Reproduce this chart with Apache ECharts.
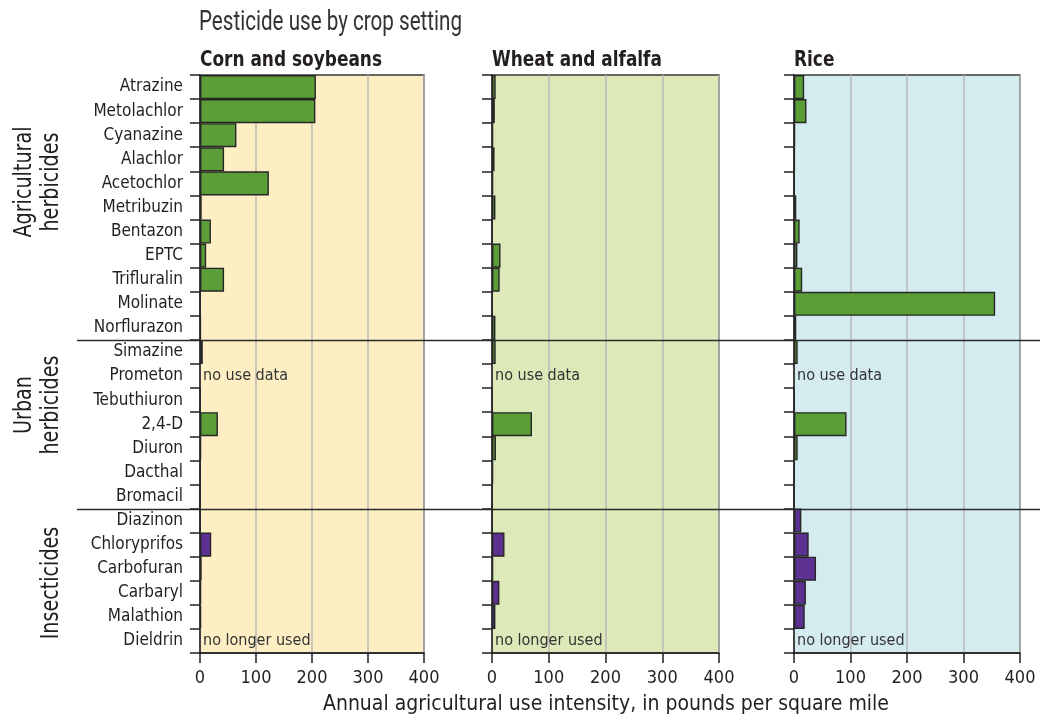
<!DOCTYPE html>
<html>
<head>
<meta charset="utf-8">
<script src="https://cdn.jsdelivr.net/npm/echarts@6/dist/echarts.min.js"></script>
<style>
  html, body { margin: 0; padding: 0; background: #ffffff; }
  #chart { width: 1045px; height: 719px; }
</style>
</head>
<body>
<div id="chart"></div>
<script>
// ---- data ----
const categories = [
  'Atrazine', 'Metolachlor', 'Cyanazine', 'Alachlor', 'Acetochlor', 'Metribuzin',
  'Bentazon', 'EPTC', 'Trifluralin', 'Molinate', 'Norflurazon',
  'Simazine', 'Prometon', 'Tebuthiuron', '2,4-D', 'Diuron', 'Dacthal', 'Bromacil',
  'Diazinon', 'Chloryprifos', 'Carbofuran', 'Carbaryl', 'Malathion', 'Dieldrin'
];
const groupNames = ['Agricultural\nherbicides', 'Urban\nherbicides', 'Insecticides'];
const groupSizes = [11, 7, 6];
const panelTitles = ['Corn and soybeans', 'Wheat and alfalfa', 'Rice'];

// annual agricultural use intensity, pounds per square mile
const cornSoybeans = [207, 206, 65, 43, 123, 3, 19.5, 11, 43, 0.5, 1.5,
                      5, 0, 0.5, 32, 2, 1, 0,
                      0.5, 20, 3, 2, 2, 0];
const wheatAlfalfa = [6.5, 5, 2, 4.5, 2, 6, 0.5, 15, 13.5, 0.5, 6,
                      6.5, 0, 1, 70.5, 7, 2, 1,
                      1, 22, 2, 13, 6, 0];
const rice         = [18, 22, 2, 1.5, 1, 4, 10, 6, 14.5, 356, 4,
                      6.5, 0, 1, 93, 6.5, 1, 0.5,
                      13, 26, 39, 21, 19, 0];
const notes = ['', '', '', '', '', '', '', '', '', '', '',
               '', 'no use data', '', '', '', '', '',
               '', '', '', '', '', 'no longer used'];
const xTicks = [0, 100, 200, 300, 400];
const xTitle = 'Annual agricultural use intensity, in pounds per square mile';
const chartTitle = 'Pesticide use by crop setting';

// ---- styling ----
const FONT = '"DejaVu Sans Condensed", "Liberation Sans Narrow", sans-serif';
const TITLE_FONT = 'Roboto, "DejaVu Sans Condensed", sans-serif';
const INK = '#231f20';
const groupColors = ['#5b9e38', '#5b9e38', '#5c3192'];
const panelBg = ['#fdeec4', '#dde9b8', '#d4ebef'];
const panelBox = [
  { left: 200, width: 224 },
  { left: 492, width: 227 },
  { left: 794, width: 226 }
];
const TOP = 75, HEIGHT = 578;

const seriesData = [cornSoybeans, wheatAlfalfa, rice];

// horizontal squeeze that makes a string span the wanted width
const measureCtx = document.createElement('canvas').getContext('2d');
function squeeze(text, weight, size, family, width) {
  measureCtx.font = weight + ' ' + size + 'px ' + family;
  const lines = text.split('\n');
  const w = Math.max.apply(null, lines.map(l => measureCtx.measureText(l).width));
  return width / w;
}

// colour of each category from the group it belongs to
const catColor = [];
groupSizes.forEach((n, g) => { for (let i = 0; i < n; i++) catColor.push(groupColors[g]); });

const chart = echarts.init(document.getElementById('chart'), null, { renderer: 'canvas' });

const grids = panelBox.map((b, i) => ({
  left: b.left, top: TOP, width: b.width, height: HEIGHT,
  show: true, backgroundColor: panelBg[i], borderColor: '#3a3a3a', borderWidth: 1.5,
  containLabel: false
}));

const xAxes = panelBox.map((b, i) => ({
  type: 'value', gridIndex: i, min: xTicks[0], max: xTicks[xTicks.length - 1],
  interval: xTicks[1] - xTicks[0],
  axisLine: { show: true, lineStyle: { color: INK, width: 1.5 } },
  axisTick: { show: true, length: 10, lineStyle: { color: INK, width: 1.5 } },
  axisLabel: { fontFamily: FONT, fontSize: 18, color: INK, margin: 16 },
  splitLine: { show: true, lineStyle: { color: '#b9b9b9', width: 1.5 } }
}));

const yAxes = panelBox.map((b, i) => ({
  type: 'category', gridIndex: i, data: categories, inverse: true,
  axisLine: { show: true, lineStyle: { color: INK, width: 1.5 } },
  axisTick: { show: true, length: 10, interval: 0, lineStyle: { color: INK, width: 1.5 } },
  axisLabel: { show: i === 0, interval: 0, fontFamily: FONT, fontSize: 17, color: INK, margin: 17 },
  splitLine: { show: false }
}));

const series = seriesData.map((vals, i) => ({
  type: 'bar', xAxisIndex: i, yAxisIndex: i,
  barCategoryGap: '0%',
  data: vals.map((v, k) => {
    const item = {
      value: v,
      itemStyle: { color: catColor[k], borderColor: '#262626', borderWidth: notes[k] ? 0 : 1.4 }
    };
    if (notes[k]) {
      item.label = {
        show: true, position: 'right', distance: 3, formatter: notes[k],
        fontFamily: FONT, fontSize: 16, color: '#333'
      };
    }
    return item;
  }),
  animation: false,
  silent: true
}));

chart.setOption({
  animation: false,
  grid: grids,
  xAxis: xAxes,
  yAxis: yAxes,
  series: series
});

// ---- titles, group labels and group separators ----
const graphics = [];
graphics.push({
  type: 'text', x: 199, y: 23,
  scaleX: squeeze(chartTitle, 'normal', 28, TITLE_FONT, 263),
  style: { text: chartTitle, fontFamily: TITLE_FONT, fontSize: 28, fontWeight: 'normal', fill: '#333',
           textAlign: 'left', textVerticalAlign: 'middle' }
});
const panelTitleScale = squeeze(panelTitles[0], 'bold', 21, FONT, 182);
panelTitles.forEach((t, i) => {
  graphics.push({
    type: 'text', x: panelBox[i].left, y: 61, scaleX: panelTitleScale,
    style: { text: t, fontFamily: FONT, fontSize: 21, fontWeight: 'bold', fill: INK,
             textAlign: 'left', textVerticalAlign: 'middle' }
  });
});
graphics.push({
  type: 'text', x: 606, y: 705,
  scaleX: squeeze(xTitle, 'normal', 21, FONT, 566),
  style: { text: xTitle, fontFamily: FONT, fontSize: 21, fill: INK,
           textAlign: 'center', textVerticalAlign: 'middle' }
});

// boundaries between groups, from the category scale
const rowY = k => chart.convertToPixel({ yAxisIndex: 0 }, categories[k]);
const groupLabelScale = squeeze('Agricultural', 'normal', 24, FONT, 111);
let start = 0;
const groupLabelPos = [{ x: 38, y: 182 }, { x: 38, y: 405 }, { x: 52, y: 583 }];
groupSizes.forEach((n, g) => {
  const end = start + n;
  if (end < categories.length) {
    const yb = Math.round((rowY(end - 1) + rowY(end)) / 2) + 0.5;
    graphics.push({
      type: 'line', shape: { x1: 77, y1: yb, x2: 1040, y2: yb },
      style: { stroke: '#2b2b2b', lineWidth: 1.3 }, z: 10
    });
  }
  graphics.push({
    type: 'text', x: groupLabelPos[g].x, y: groupLabelPos[g].y, rotation: Math.PI / 2,
    scaleX: groupLabelScale,
    style: { text: groupNames[g], fontFamily: FONT, fontSize: 24, fill: INK, lineHeight: 27,
             textAlign: 'center', textVerticalAlign: 'middle' }
  });
  start = end;
});

chart.setOption({ graphic: { elements: graphics } });
</script>
</body>
</html>
